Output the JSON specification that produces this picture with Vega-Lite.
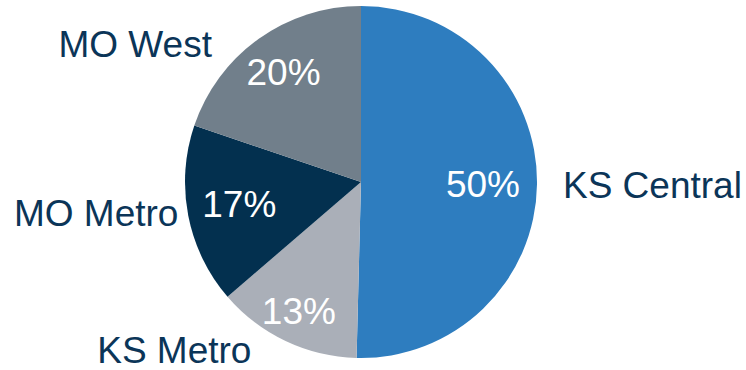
{
  "$schema": "https://vega.github.io/schema/vega-lite/v6.json",
  "width": 722,
  "height": 364,
  "autosize": "none",
  "padding": {"left": 0, "top": 0, "right": 24, "bottom": 6},
  "background": "white",
  "config": {"view": {"stroke": null}, "font": "Liberation Sans"},
  "data": {
    "values": [
      {"cat": "KS Central", "value": 50.4, "label": "50%"},
      {"cat": "KS Metro", "value": 13.3, "label": "13%"},
      {"cat": "MO Metro", "value": 16.5, "label": "17%"},
      {"cat": "MO West", "value": 19.8, "label": "20%"}
    ]
  },
  "encoding": {
    "theta": {"field": "value", "type": "quantitative", "stack": true},
    "order": {"field": "cat", "type": "ordinal", "sort": "ascending"},
    "detail": {"field": "cat", "type": "nominal"}
  },
  "layer": [
    {
      "mark": {"type": "arc", "outerRadius": 176},
      "encoding": {
        "color": {
          "field": "cat",
          "type": "nominal",
          "scale": {
            "domain": ["KS Central", "KS Metro", "MO Metro", "MO West"],
            "range": ["#2E7DBF", "#AAAFB8", "#03304F", "#717F8B"]
          },
          "legend": null
        }
      }
    },
    {
      "mark": {"type": "text", "radius": 122, "dy": 2, "fill": "white", "fontSize": 37, "font": "Liberation Sans", "baseline": "middle"},
      "encoding": {"text": {"condition": {"test": "datum.cat === 'KS Central'", "field": "label", "type": "nominal"}, "value": ""}}
    },
    {
      "mark": {"type": "text", "radius": 145, "fill": "white", "fontSize": 37, "font": "Liberation Sans", "baseline": "middle"},
      "encoding": {"text": {"condition": {"test": "datum.cat === 'KS Metro'", "field": "label", "type": "nominal"}, "value": ""}}
    },
    {
      "mark": {"type": "text", "radius": 124, "fill": "white", "fontSize": 37, "font": "Liberation Sans", "baseline": "middle"},
      "encoding": {"text": {"condition": {"test": "datum.cat === 'MO Metro'", "field": "label", "type": "nominal"}, "value": ""}}
    },
    {
      "mark": {"type": "text", "radius": 133, "fill": "white", "fontSize": 37, "font": "Liberation Sans", "baseline": "middle"},
      "encoding": {"text": {"condition": {"test": "datum.cat === 'MO West'", "field": "label", "type": "nominal"}, "value": ""}}
    },
    {
      "mark": {"type": "text", "radius": 202, "align": "left", "dy": 2, "baseline": "middle", "fill": "#0B3558", "fontSize": 37, "font": "Liberation Sans"},
      "encoding": {"text": {"condition": {"test": "datum.cat === 'KS Central'", "field": "cat", "type": "nominal"}, "value": ""}}
    },
    {
      "mark": {"type": "text", "radius": 188, "align": "right", "dx": -29, "baseline": "middle", "fill": "#0B3558", "fontSize": 37, "font": "Liberation Sans"},
      "encoding": {"text": {"condition": {"test": "datum.cat === 'KS Metro'", "field": "cat", "type": "nominal"}, "value": ""}}
    },
    {
      "mark": {"type": "text", "radius": 186, "align": "right", "dy": -2, "baseline": "middle", "fill": "#0B3558", "fontSize": 37, "font": "Liberation Sans"},
      "encoding": {"text": {"condition": {"test": "datum.cat === 'MO Metro'", "field": "cat", "type": "nominal"}, "value": ""}}
    },
    {
      "mark": {"type": "text", "radius": 170, "align": "right", "dx": -50, "dy": 2, "baseline": "middle", "fill": "#0B3558", "fontSize": 37, "font": "Liberation Sans"},
      "encoding": {"text": {"condition": {"test": "datum.cat === 'MO West'", "field": "cat", "type": "nominal"}, "value": ""}}
    }
  ]
}
